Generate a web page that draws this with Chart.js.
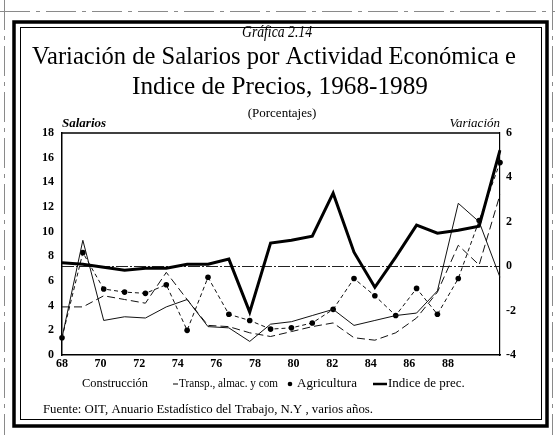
<!DOCTYPE html>
<html>
<head>
<meta charset="utf-8">
<script src="https://cdn.jsdelivr.net/npm/chart.js@4.4.0/dist/chart.umd.min.js"></script>
<style>
html,body{margin:0;padding:0;background:#fff;}
#wrap{width:555px;height:435px;position:relative;}
canvas{display:block;}
</style>
</head>
<body>
<div id="wrap"><canvas id="c" width="555" height="435"></canvas></div>
<script>
// ---- data ----
const years = [68,69,70,71,72,73,74,75,76,77,78,79,80,81,82,83,84,85,86,87,88,89];
const xTickLabels = [68,70,72,74,76,78,80,82,84,86,88];
const salariosTicks = [0,2,4,6,8,10,12,14,16,18];
const variacionTicks = [-4,-2,0,2,4,6];

// Salarios (left axis, %)
const construccion = [1.4,9.3,2.8,3.1,3.0,3.9,4.5,2.3,2.2,1.1,2.5,2.7,3.2,3.7,2.4,2.8,3.2,3.4,5.2,12.3,10.8,6.3];
const transporte   = [3.9,3.9,4.8,4.5,4.2,6.7,4.5,2.4,2.3,1.8,1.5,1.9,2.3,2.6,1.4,1.2,1.8,3.0,5.1,8.9,7.3,13.0];
const agricultura  = [1.4,8.3,5.35,5.1,5.0,5.7,2.0,6.3,3.3,2.8,2.1,2.2,2.6,3.7,6.2,4.8,3.2,5.4,3.3,6.2,10.9,15.6];
// Indice de precios (right axis, variación)
const indicePrecios = [0.15,0.09,-0.05,-0.18,-0.09,-0.09,0.09,0.09,0.32,-2.07,1.04,1.17,1.35,3.29,0.63,-0.95,0.41,1.85,1.49,1.62,1.8,5.23];

const SERIF = '"Liberation Serif","Times New Roman",serif';

const decor = {
  id: 'decor',
  beforeDraw(chart) {
    const ctx = chart.ctx;
    ctx.save();
    ctx.fillStyle = '#fff';
    ctx.fillRect(0, 0, chart.width, chart.height);
    // faint outer scan lines
    ctx.strokeStyle = '#8a8a8a';
    ctx.lineWidth = 1;
    ctx.setLineDash([30, 6, 4, 6]);
    ctx.beginPath();
    ctx.moveTo(0, 11.5); ctx.lineTo(555, 11.5);
    ctx.moveTo(4.5, 0); ctx.lineTo(4.5, 435);
    ctx.moveTo(552.5, 0); ctx.lineTo(552.5, 435);
    ctx.stroke();
    ctx.setLineDash([]);
    // thick frame
    ctx.strokeStyle = '#000';
    ctx.lineWidth = 3.5;
    ctx.strokeRect(14, 22, 533, 404);
    // inner thin frame
    ctx.lineWidth = 1;
    ctx.strokeRect(20.5, 27.5, 521, 392);

    ctx.fillStyle = '#000';
    ctx.textBaseline = 'alphabetic';
    ctx.textAlign = 'center';
    ctx.font = 'italic 16px ' + SERIF;
    ctx.fillText('Gráfica 2.14', 277, 37, 70);
    ctx.font = '26px ' + SERIF;
    ctx.fillText('Variación de Salarios por Actividad Económica e', 274, 64, 484);
    ctx.fillText('Indice de Precios, 1968-1989', 280, 94, 296);
    ctx.font = '13px ' + SERIF;
    ctx.fillText('(Porcentajes)', 282, 117, 72);

    ctx.textAlign = 'left';
    ctx.font = 'bold italic 13px ' + SERIF;
    ctx.fillText('Salarios', 62, 127, 46);
    ctx.textAlign = 'right';
    ctx.font = 'italic 13px ' + SERIF;
    ctx.fillText('Variación', 500, 127, 52);

    // legend
    ctx.textAlign = 'left';
    ctx.textBaseline = 'middle';
    ctx.font = '13px ' + SERIF;
    const ly = 384;
    ctx.fillText('Construcción', 82, ly, 66);
    ctx.lineWidth = 1;
    ctx.beginPath(); ctx.moveTo(173, ly); ctx.lineTo(178, ly); ctx.stroke();
    ctx.fillText('Transp., almac. y com', 179, ly, 99);
    ctx.beginPath(); ctx.arc(290, ly, 2.3, 0, Math.PI * 2); ctx.fill();
    ctx.fillText('Agricultura', 297, ly, 70);
    ctx.lineWidth = 2.5;
    ctx.beginPath(); ctx.moveTo(373, ly); ctx.lineTo(387, ly); ctx.stroke();
    ctx.fillText('Indice de prec.', 388, ly, 100);
    // source
    ctx.font = '13px ' + SERIF;
    ctx.fillText('Fuente: OIT, Anuario Estadístico del Trabajo, N.Y , varios años.', 43, 410, 330);
    ctx.restore();
  },
  afterDraw(chart) {
    const {ctx, chartArea: a} = chart;
    ctx.save();
    ctx.strokeStyle = '#000';
    ctx.lineWidth = 1.5;
    ctx.beginPath();
    ctx.moveTo(a.left, a.top); ctx.lineTo(a.right, a.top);
    ctx.stroke();
    ctx.restore();
  }
};

const tickFont = {family: SERIF, size: 12, weight: 'bold'};

new Chart(document.getElementById('c'), {
  type: 'line',
  data: {
    labels: years,
    datasets: [
      {label: 'Indice de prec.', data: indicePrecios, yAxisID: 'y2', xAxisID: 'x',
       borderColor: '#000', borderWidth: 3, pointRadius: 0, tension: 0},
      {label: 'Construcción', data: construccion, yAxisID: 'y', xAxisID: 'x',
       borderColor: '#111', borderWidth: 1, pointRadius: 0, tension: 0},
      {label: 'Transp., almac. y com', data: transporte, yAxisID: 'y', xAxisID: 'x',
       borderColor: '#111', borderWidth: 1, borderDash: [8, 4], pointRadius: 0, tension: 0},
      {label: 'Agricultura', data: agricultura, yAxisID: 'y', xAxisID: 'x',
       borderColor: '#111', borderWidth: 1, borderDash: [4, 3], pointRadius: 2.8,
       pointBackgroundColor: '#000', pointBorderWidth: 0, tension: 0}
    ]
  },
  options: {
    responsive: false,
    animation: false,
    devicePixelRatio: 1,
    layout: {padding: {top: 133, left: 0, right: 0, bottom: 0}},
    plugins: {legend: {display: false}, tooltip: {enabled: false}, title: {display: false}},
    scales: {
      x: {type: 'category', display: false},
      xl: {
        type: 'linear', position: 'bottom', min: 68, max: 90.7,
        afterBuildTicks: s => { s.ticks = xTickLabels.map(v => ({value: v})); },
        afterFit: s => { s.height = 80; },
        ticks: {autoSkip: false, maxRotation: 0, padding: 2, color: '#000', font: tickFont,
                callback: v => String(v)},
        grid: {display: false, drawTicks: false},
        border: {display: true, color: '#000', width: 1.5}
      },
      y: {
        position: 'left', min: 0, max: 18,
        afterBuildTicks: s => { s.ticks = salariosTicks.map(v => ({value: v})); },
        afterFit: s => { s.width = 62; },
        ticks: {padding: 8, color: '#000', font: tickFont},
        grid: {display: false, drawTicks: false},
        border: {display: true, color: '#000', width: 1.5}
      },
      y2: {
        position: 'right', min: -4, max: 6,
        afterBuildTicks: s => { s.ticks = variacionTicks.map(v => ({value: v})); },
        afterFit: s => { s.width = 55; },
        ticks: {padding: 6, crossAlign: 'near', color: '#000', font: tickFont},
        grid: {display: true, drawTicks: false, lineWidth: 1,
               color: c => (c.tick && c.tick.value === 0) ? '#222' : 'rgba(0,0,0,0)'},
        border: {display: true, color: '#000', width: 1.2, dash: [12, 2, 2, 2]}
      }
    }
  },
  plugins: [decor]
});
</script>
</body>
</html>
